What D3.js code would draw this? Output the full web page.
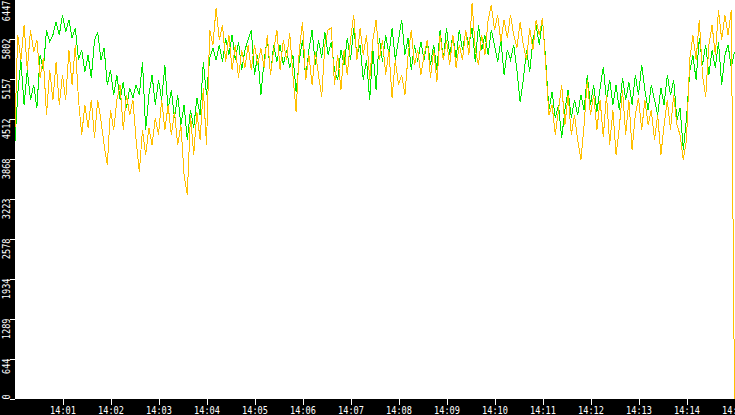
<!DOCTYPE html>
<html><head><meta charset="utf-8">
<script src="https://cdn.jsdelivr.net/npm/d3@7"></script>
<style>html,body{margin:0;padding:0;background:#000;overflow:hidden}</style>
</head><body>
<svg id="c" width="735" height="415"></svg>
<script>
const startTime = "14:00:00";
const endTime = "14:15:00";
const sampleSeconds = 4;

const greenValues = [
4014,4901,5465,4739,5304,4820,5062,4691,5545,5304,
5948,5755,5868,6077,5868,6190,5916,6110,5819,5981,
5465,5626,5271,5545,5175,5787,5916,5465,5658,5062,
5304,4901,5223,4820,5110,4691,5013,4852,5062,4901,
5433,4336,4901,5223,4739,5142,4820,5384,4659,4981,
4530,4901,4417,4739,4175,4659,4369,4852,4578,5433,
4901,5497,5658,5465,5707,5433,5819,5545,5868,5465,
5755,5304,5626,5787,5948,5223,5545,4901,5465,5819,
5223,5707,5433,5707,5384,5626,5336,5545,4949,5465,
5787,5175,5626,5948,5384,5787,5497,5916,5545,5755,
5304,5142,5626,5384,5819,5465,5981,5545,5707,5142,
5465,4820,5626,4981,5819,5433,5868,5545,5981,5465,
5787,6110,5545,5819,5304,5707,5433,5755,5465,5787,
5384,5707,5304,5948,5465,5981,5545,5868,5497,5948,
5626,5916,5707,5981,5433,6029,5626,5868,5545,5948,
5707,5433,5787,5223,5626,5465,5707,5304,4788,5142,
5626,5271,5787,6029,5707,6110,5465,4659,4949,4530,
4739,4207,4659,4981,4530,4820,4578,4901,4659,5223,
4739,5062,4627,5013,5352,4820,5142,4739,5062,4659,
5175,4820,5110,4739,5223,4901,5384,4981,4659,5062,
4820,4578,5013,4739,5223,4901,5142,4498,4691,4014,
4530,5271,5545,5142,5819,5384,5707,5223,5626,5336,
5755,5062,5545,5707,5336,5594
];

const orangeValues = [
4095,5868,5465,6029,5304,5948,5594,5787,5175,5497,
4578,5304,4820,5433,4739,5223,4820,5626,5062,5707,
4820,4256,4739,4369,4820,4207,4820,4498,4095,3772,
4659,4336,4820,5062,4336,4901,4578,4820,4175,3659,
4336,3933,4369,4095,4530,4256,4820,4336,4739,4256,
4627,4095,4417,3611,3289,4578,3933,4627,4175,5013,
4095,5948,5707,6303,5787,6029,5433,5868,5304,5707,
5175,5626,5336,5707,5304,5707,5384,5658,5336,5868,
5223,5626,5948,5304,5787,5465,5900,5223,4627,5626,
6077,5142,5545,5062,5594,5223,4868,5707,5948,5981,
5062,5545,4981,5626,5223,5787,6190,5465,5981,5545,
5868,5142,5787,6110,5465,5787,5223,5626,4852,5465,
5062,5223,4901,5545,5948,5384,5626,5223,5545,5787,
5175,5626,5110,5868,5465,5787,5384,5868,5336,5707,
5465,5948,5545,6384,5626,5384,5868,5545,6110,6351,
5948,6190,5755,6110,5819,6190,5868,5658,6077,5707,
5465,5981,5626,6110,5868,6142,5384,4578,4739,4256,
4659,5062,4417,4901,4256,4578,4175,3853,4417,5142,
4578,4901,4336,4820,4224,4901,4095,4659,3933,4369,
4981,4256,4820,4014,4578,4852,4336,4820,4417,4659,
4175,4578,3933,4417,4820,4336,4901,4417,4256,3853,
4175,5465,5868,5465,6110,5223,4868,5707,6029,5545,
6271,5787,6190,5868,6271,0
];

const yMax = 6447;
const yTickValues = [0, 644.7, 1289.4, 1934.1, 2578.8, 3223.5, 3868.2, 4512.9, 5157.6, 5802.3, 6447];
const yTickLabels = ["0","644","1289","1934","2578","3223","3868","4512","5157","5802","6447"];
const xTickLabels = ["14:01","14:02","14:03","14:04","14:05","14:06","14:07","14:08","14:09","14:10","14:11","14:12","14:13","14:14","14:15"];

const W = 735, H = 415;
const parse = d3.timeParse("%H:%M:%S");
const parseHM = d3.timeParse("%H:%M");
const t0 = parse(startTime), t1 = parse(endTime);
const x = d3.scaleTime().domain([t0, t1]).range([14.5, 734.5]);
const y = d3.scaleLinear().domain([0, yMax]).range([399, -1]);

const svg = d3.select("#c");
svg.append("rect").attr("width", W).attr("height", H).attr("fill", "#000");
svg.append("rect").attr("x", 15).attr("y", 0).attr("width", 720).attr("height", 399).attr("fill", "#fff");

svg.append("clipPath").attr("id", "clip")
  .append("rect").attr("x", 15).attr("y", 0).attr("width", 720).attr("height", 399.5);

const timeAt = i => new Date(t0.getTime() + i * sampleSeconds * 1000);
const line = d3.line().x((d, i) => x(timeAt(i))).y(d => y(d));

const g = svg.append("g").attr("clip-path", "url(#clip)");
g.append("path").datum(greenValues).attr("d", line)
  .attr("fill", "none").attr("stroke", "#00e800").attr("stroke-width", 1)
  .attr("shape-rendering", "crispEdges");
g.append("path").datum(orangeValues).attr("d", line)
  .attr("fill", "none").attr("stroke", "#ffc000").attr("stroke-width", 1)
  .attr("shape-rendering", "crispEdges");

const fontFam = "'DejaVu Sans Mono', 'Liberation Mono', monospace";
const sx = 0.86;
const last = yTickLabels.length - 1;

// Y axis
const yAxis = d3.axisLeft(y).tickValues(yTickValues)
  .tickFormat((d, i) => yTickLabels[i]).tickSize(5).tickPadding(0);
const gy = svg.append("g").attr("transform", "translate(15,0)").call(yAxis);
gy.select(".domain").remove();
gy.selectAll(".tick line").attr("stroke", "#fff").attr("shape-rendering", "crispEdges");
gy.selectAll(".tick text")
  .attr("fill", "#fff").attr("font-family", fontFam).attr("font-size", 10)
  .attr("dy", null)
  .attr("text-anchor", (d, i) => i === 0 ? "start" : "end")
  .attr("transform", `rotate(-90) scale(${sx},1)`)
  .attr("x", (d, i) => i === 0 ? 0 : (i === last ? -1 / sx : 1 / sx))
  .attr("y", -4.6);

// X axis
const xAxis = d3.axisBottom(x).tickValues(xTickLabels.map(s => parseHM(s)))
  .tickFormat((d, i) => xTickLabels[i]).tickSize(6).tickPadding(0);
const gx = svg.append("g").attr("transform", "translate(0,399)").call(xAxis);
gx.select(".domain").remove();
gx.selectAll(".tick line").attr("stroke", "#fff").attr("shape-rendering", "crispEdges");
gx.selectAll(".tick text")
  .attr("fill", "#fff").attr("font-family", fontFam).attr("font-size", 10)
  .attr("dy", null).attr("y", 14.8)
  .attr("text-anchor", "middle")
  .attr("transform", `scale(${sx},1)`);
</script>
</body></html>
